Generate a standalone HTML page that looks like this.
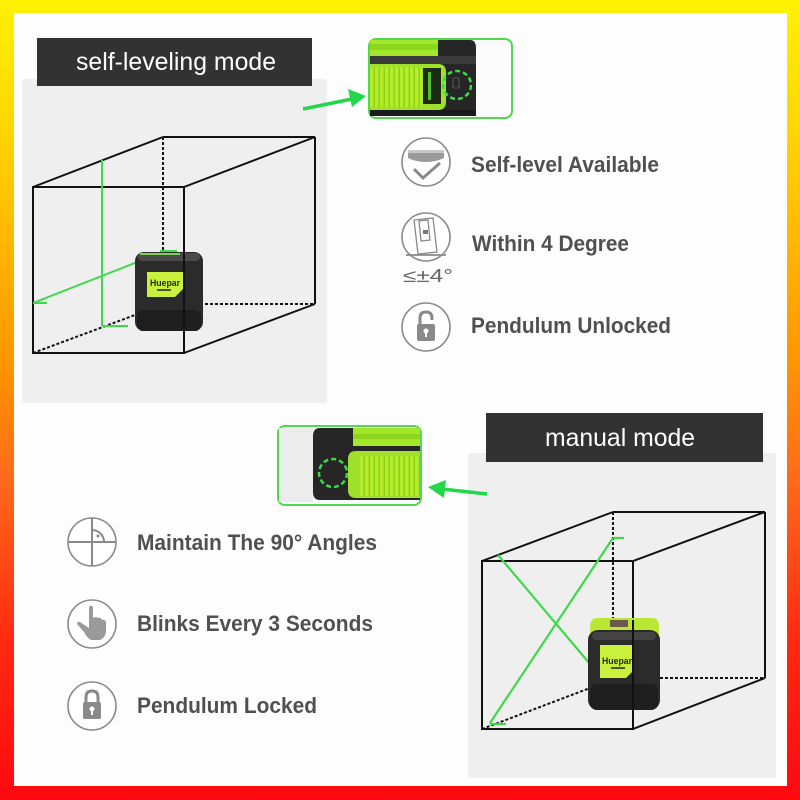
<!DOCTYPE html>
<html><head><meta charset="utf-8">
<style>
html,body{margin:0;padding:0;width:800px;height:800px;overflow:hidden;background:#fff;}
svg{display:block;}
text{font-family:"Liberation Sans",Arial,sans-serif;}
</style></head>
<body>
<svg width="800" height="800" viewBox="0 0 800 800" xmlns="http://www.w3.org/2000/svg">
<defs>
<linearGradient id="bg" x1="0" y1="0" x2="0" y2="1">
<stop offset="0" stop-color="#fff200"/>
<stop offset="0.15" stop-color="#ffd800"/>
<stop offset="0.45" stop-color="#ff9600"/>
<stop offset="0.6" stop-color="#ff6a1a"/>
<stop offset="0.8" stop-color="#ff2a10"/>
<stop offset="1" stop-color="#ff0810"/>
</linearGradient>
<pattern id="ribs" width="5" height="10" patternUnits="userSpaceOnUse">
<rect width="5" height="10" fill="#b4ee2a"/>
<rect x="3.5" width="1.5" height="10" fill="#8fd01a"/>
</pattern>
</defs>
<rect width="800" height="800" fill="url(#bg)"/>
<rect x="14" y="13" width="773" height="773" fill="#fdfdfd"/>

<!-- TOP LEFT PANEL -->
<rect x="22" y="79" width="305" height="324" rx="3" fill="#efefef"/>
<rect x="37" y="38" width="275" height="48" fill="#323232"/>
<text x="76" y="70" font-size="25" fill="#fff" textLength="200" lengthAdjust="spacingAndGlyphs">self-leveling mode</text>

<!-- cube 1 -->
<g stroke="#111" stroke-width="2" fill="none">
<rect x="33" y="187" width="151" height="166"/>
<line x1="33" y1="187" x2="163" y2="137"/>
<line x1="163" y1="137" x2="315" y2="137"/>
<line x1="184" y1="187" x2="315" y2="137"/>
<line x1="315" y1="137" x2="315" y2="304"/>
<line x1="184" y1="353" x2="315" y2="304"/>
</g>
<g stroke="#111" stroke-width="2" stroke-dasharray="3,2" fill="none">
<line x1="163" y1="137" x2="163" y2="252"/>
<line x1="205" y1="304" x2="315" y2="304"/>
<line x1="33" y1="353" x2="135" y2="315"/>
</g>
<g stroke="#3fd84a" stroke-width="2" fill="none">
<line x1="102" y1="160" x2="102" y2="326"/>
<line x1="102" y1="326" x2="128" y2="326"/>
<line x1="33" y1="303" x2="145" y2="259"/>
<line x1="33" y1="303" x2="47" y2="303"/>
<line x1="160" y1="251" x2="177" y2="251"/>
</g>
<!-- device 1 -->
<g>
<rect x="135" y="252" width="68" height="79" rx="9" fill="#2b2b2b"/>
<rect x="138" y="253" width="62" height="8" rx="4" fill="#4a4a4a"/>
<rect x="140" y="253" width="40" height="2" fill="#7fcf5a"/>
<path d="M147 272 H183 V289 L175 297 H147 Z" fill="#c9f03c"/>
<text x="150" y="286" font-size="9" font-weight="bold" fill="#1e2a10" textLength="30" lengthAdjust="spacingAndGlyphs">Huepar</text>
<rect x="157" y="289" width="14" height="2" fill="#4a5a20"/>
<rect x="137" y="310" width="64" height="21" rx="6" fill="#1e1e1e"/>
</g>
<line x1="184" y1="252" x2="184" y2="353" stroke="#111" stroke-width="2"/>

<!-- top thumbnail -->
<rect x="369" y="39" width="143" height="79" rx="7" fill="#fbfbfb" stroke="#4fd850" stroke-width="2"/>
<g>
<rect x="370" y="40" width="70" height="17" fill="#a4e62a"/>
<rect x="370" y="44" width="70" height="6" fill="#8cd61e"/>
<path d="M438 40 H470 Q476 40 476 48 V112 Q476 116 470 116 H370 V56 H438 Z" fill="#262626"/>
<rect x="370" y="56" width="106" height="8" fill="#3a3a3a"/>
<path d="M370 64 H438 Q446 64 446 72 V102 Q446 110 438 110 H370 Z" fill="#9ee02a"/>
<rect x="423" y="68" width="18" height="36" fill="#1d2a14"/>
<rect x="428" y="72" width="3" height="28" fill="#4fbf2a"/>
<rect x="370" y="67" width="52" height="40" fill="url(#ribs)"/>
<circle cx="457" cy="85" r="14" fill="none" stroke="#3fd84a" stroke-width="2.5" stroke-dasharray="5,3"/>
<rect x="453" y="78" width="6" height="10" rx="1" fill="none" stroke="#555" stroke-width="1"/>
<rect x="370" y="110" width="106" height="6" fill="#1a1a1a"/>
</g>
<!-- arrow top -->
<line x1="303" y1="109" x2="352" y2="99" stroke="#22d84a" stroke-width="3.5"/>
<polygon points="366,96 348,89 352,107" fill="#22d84a"/>

<!-- top icons -->
<g fill="#fff" stroke="#8a8a8a" stroke-width="1.6">
<circle cx="426" cy="162" r="24"/>
<circle cx="426" cy="237" r="24"/>
<circle cx="426" cy="327" r="24"/>
</g>
<!-- self-level icon -->
<path d="M408 150 H444 V158 Q436 162 426 162 Q416 162 408 158 Z" fill="#9a9a9a"/>
<rect x="408" y="150" width="36" height="3" fill="#c8c8c8"/>
<polyline points="414,169 423,178 440,163" fill="none" stroke="#8a8a8a" stroke-width="3"/>
<!-- within 4 degree icon -->
<g fill="none" stroke="#8a8a8a" stroke-width="1.3">
<path d="M414 220 L433 218 L437 252 L418 254 Z"/>
<path d="M419 221 L428 220 L430 240 L421 241 Z"/>
<line x1="406" y1="255" x2="446" y2="255" stroke-width="1.8"/>
</g>
<rect x="423" y="230" width="5" height="4" fill="#777"/>
<text x="403" y="282" font-size="18" fill="#666" textLength="50" lengthAdjust="spacingAndGlyphs">≤±4°</text>
<!-- unlocked -->
<path d="M420 325 V318 Q420 312 426 312 Q432 312 432 318 V320" fill="none" stroke="#8a8a8a" stroke-width="3"/>
<rect x="417" y="324" width="18" height="17" rx="2" fill="#8a8a8a"/>
<circle cx="426" cy="331" r="2.5" fill="#fff"/>
<rect x="425" y="331" width="2" height="6" fill="#fff"/>

<g font-weight="bold" fill="#505050" font-size="22">
<text x="471" y="172" textLength="188" lengthAdjust="spacingAndGlyphs">Self-level Available</text>
<text x="472" y="251" textLength="157" lengthAdjust="spacingAndGlyphs">Within 4 Degree</text>
<text x="471" y="333" textLength="200" lengthAdjust="spacingAndGlyphs">Pendulum Unlocked</text>
</g>

<!-- BOTTOM RIGHT PANEL -->
<rect x="468" y="453" width="308" height="325" rx="3" fill="#efefef"/>
<rect x="486" y="413" width="277" height="49" fill="#323232"/>
<text x="545" y="446" font-size="25" fill="#fff" textLength="150" lengthAdjust="spacingAndGlyphs">manual mode</text>

<!-- cube 2 -->
<g stroke="#111" stroke-width="2" fill="none">
<rect x="482" y="561" width="151" height="168"/>
<line x1="482" y1="561" x2="613" y2="512"/>
<line x1="613" y1="512" x2="765" y2="512"/>
<line x1="633" y1="561" x2="765" y2="512"/>
<line x1="765" y1="512" x2="765" y2="678"/>
<line x1="633" y1="729" x2="765" y2="678"/>
</g>
<g stroke="#111" stroke-width="2" stroke-dasharray="3,2" fill="none">
<line x1="613" y1="512" x2="613" y2="620"/>
<line x1="660" y1="678" x2="765" y2="678"/>
<line x1="482" y1="729" x2="590" y2="688"/>
</g>
<g stroke="#3fd84a" stroke-width="2.2" fill="none">
<line x1="498" y1="555" x2="590" y2="664"/>
<line x1="490" y1="723" x2="613" y2="538"/>
<line x1="613" y1="538" x2="624" y2="538"/>
<line x1="490" y1="724" x2="506" y2="724"/>
</g>
<!-- device 2 -->
<g>
<path d="M597 618 H652 Q659 618 659 626 V640 H590 V628 Q590 618 597 618 Z" fill="#b8e834"/>
<rect x="610" y="620" width="18" height="7" fill="#6a5a4a"/>
<rect x="588" y="630" width="72" height="80" rx="10" fill="#2b2b2b"/>
<rect x="592" y="632" width="64" height="8" rx="4" fill="#444"/>
<path d="M600 645 H633 V671 L626 678 H600 Z" fill="#c9f03c"/>
<text x="602" y="664" font-size="9" font-weight="bold" fill="#1e2a10" textLength="30" lengthAdjust="spacingAndGlyphs">Huepar</text>
<rect x="611" y="667" width="14" height="2" fill="#4a5a20"/>
<rect x="590" y="684" width="68" height="26" rx="7" fill="#1e1e1e"/>
</g>
<line x1="633" y1="620" x2="633" y2="729" stroke="#111" stroke-width="2"/>

<!-- bottom thumbnail -->
<rect x="278" y="426" width="143" height="79" rx="7" fill="#fbfbfb" stroke="#4fd850" stroke-width="2"/>
<g>
<rect x="279" y="428" width="34" height="74" fill="#ececec"/>
<path d="M320 428 H420 V500 H320 Q313 500 313 492 V436 Q313 428 320 428 Z" fill="#262626"/>
<rect x="353" y="428" width="67" height="18" fill="#a4e62a"/>
<rect x="353" y="434" width="67" height="5" fill="#8cd61e"/>
<path d="M356 451 H420 V498 H356 Q348 498 348 490 V459 Q348 451 356 451 Z" fill="#9ee02a"/>
<rect x="360" y="456" width="60" height="40" fill="url(#ribs)"/>
<circle cx="333" cy="473" r="14" fill="none" stroke="#3fd84a" stroke-width="2.5" stroke-dasharray="5,3"/>
</g>
<!-- arrow bottom -->
<line x1="487" y1="494" x2="442" y2="489" stroke="#22d84a" stroke-width="3.5"/>
<polygon points="428,487 446,480 444,498" fill="#22d84a"/>

<!-- bottom left icons -->
<g fill="#fff" stroke="#8a8a8a" stroke-width="1.6">
<circle cx="92" cy="542" r="24"/>
<circle cx="92" cy="624" r="24"/>
<circle cx="92" cy="706" r="24"/>
</g>
<g stroke="#8a8a8a" stroke-width="2" fill="none">
<line x1="68" y1="542" x2="116" y2="542"/>
<line x1="92" y1="518" x2="92" y2="566"/>
<path d="M92 530 A12 12 0 0 1 104 542"/>
</g>
<circle cx="98" cy="536" r="1.5" fill="#8a8a8a"/>
<!-- hand -->
<path d="M89 607 Q91 604 93 607 V618 Q96 616 98 618 Q101 617 102 620 Q105 619 106 622 V632 Q105 638 100 640 H91 Q87 638 84 632 L77 624 Q77 621 80 622 L89 628 Z" fill="#9a9a9a"/>
<!-- locked -->
<path d="M86 704 V697 Q86 691 92 691 Q98 691 98 697 V704" fill="none" stroke="#8a8a8a" stroke-width="3"/>
<rect x="83" y="702" width="18" height="17" rx="2" fill="#8a8a8a"/>
<circle cx="92" cy="709" r="2.5" fill="#fff"/>
<rect x="91" y="709" width="2" height="6" fill="#fff"/>

<g font-weight="bold" fill="#505050" font-size="22">
<text x="137" y="550" textLength="240" lengthAdjust="spacingAndGlyphs">Maintain The 90° Angles</text>
<text x="137" y="631" textLength="236" lengthAdjust="spacingAndGlyphs">Blinks Every 3 Seconds</text>
<text x="137" y="713" textLength="180" lengthAdjust="spacingAndGlyphs">Pendulum Locked</text>
</g>
</svg>
</body></html>
